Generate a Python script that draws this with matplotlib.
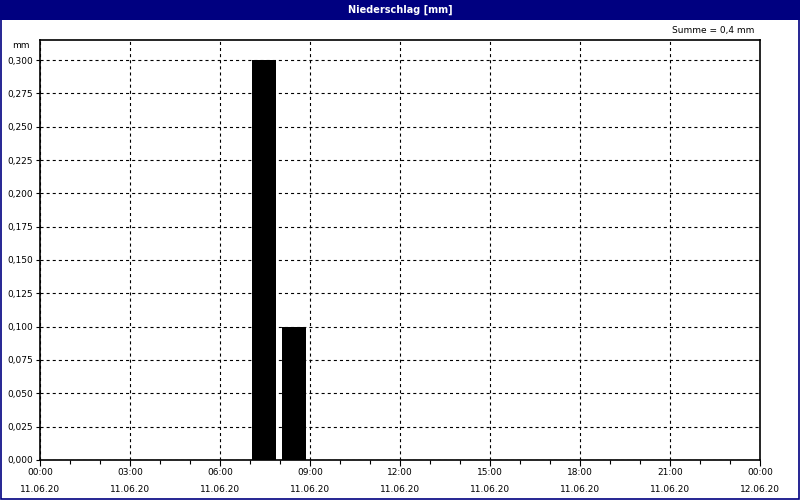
import matplotlib

matplotlib.use("Agg")
import matplotlib.pyplot as plt
from matplotlib.patches import Rectangle
from matplotlib.ticker import FixedLocator, FuncFormatter, MultipleLocator

plt.rcParams["lines.scale_dashes"] = False

# hourly precipitation on 11.06.20, value for the hour starting at the index
hours = list(range(24))
precip_mm = [0, 0, 0, 0, 0, 0, 0, 0.3, 0.1, 0, 0, 0,
             0, 0, 0, 0, 0, 0, 0, 0, 0, 0, 0, 0]
tick_hours = [0, 3, 6, 9, 12, 15, 18, 21, 24]
tick_times = ["00:00", "03:00", "06:00", "09:00", "12:00", "15:00", "18:00", "21:00", "00:00"]
tick_dates = ["11.06.20"] * 8 + ["12.06.20"]
title = "Niederschlag [mm]"
total_label = "Summe = 0,4 mm"

navy = "#000080"
fs = 6.5

fig = plt.figure(figsize=(8, 5), dpi=100)
fig.patch.set_facecolor("white")

# title bar and frame
fig.patches.append(Rectangle((0, 0.96), 1, 0.04, transform=fig.transFigure,
                             facecolor=navy, edgecolor="none", zorder=0))
fig.patches.append(Rectangle((0.001, 0.002), 0.998, 0.997, transform=fig.transFigure,
                             facecolor="none", edgecolor=navy, linewidth=1.2, zorder=5))
fig.text(0.5, 0.98, title, color="white", fontsize=7, fontweight="bold",
         ha="center", va="center")

ax = fig.add_axes([0.05, 0.08, 0.90, 0.84])
ax.bar([h + 0.47 for h in hours], precip_mm, width=0.8, color="black", zorder=3)

ax.set_xlim(0, 24)
ax.set_ylim(0, 0.315)

ax.xaxis.set_major_locator(FixedLocator(tick_hours))
ax.xaxis.set_minor_locator(MultipleLocator(1))
ax.set_xticklabels([f"{t}\n\n{d}" for t, d in zip(tick_times, tick_dates)],
                   fontsize=fs, linespacing=0.9)
ax.yaxis.set_major_locator(MultipleLocator(0.025))
ax.yaxis.set_major_formatter(FuncFormatter(lambda v, _: f"{v:.3f}".replace(".", ",")))
ax.tick_params(axis="y", labelsize=fs, length=3, width=0.8, pad=2)
ax.tick_params(axis="x", which="major", length=4, width=0.8, pad=2)
ax.tick_params(axis="x", which="minor", length=3, width=0.8)

ax.grid(True, which="major", color="black", linewidth=0.8, linestyle=(0, (2.2, 2.2)))
ax.set_axisbelow(True)
for side in ax.spines.values():
    side.set_linewidth(1.2)
    side.set_color("black")

fig.text(0.0375, 0.91, "mm", fontsize=fs, ha="right", va="center")
fig.text(0.943, 0.938, total_label, fontsize=fs, ha="right", va="center")

fig.savefig("out.png", dpi=100)
